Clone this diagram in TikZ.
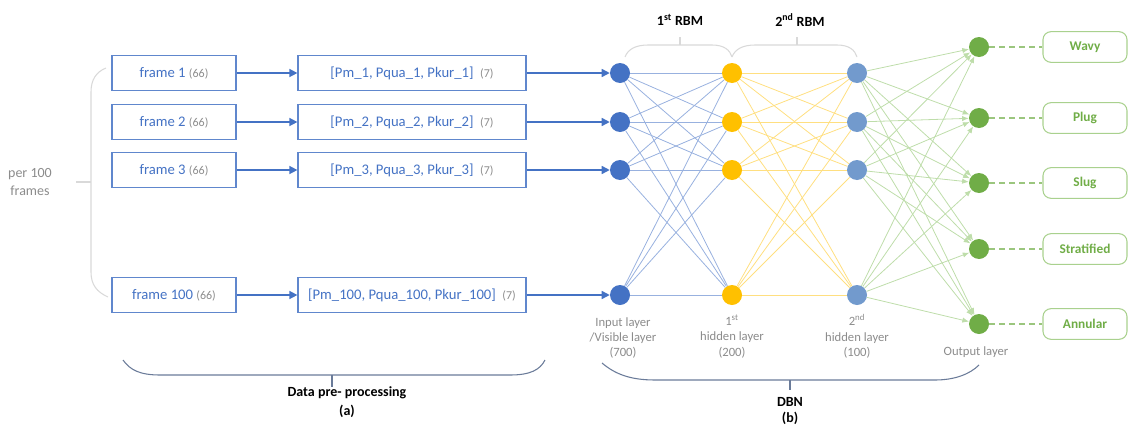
\documentclass[tikz,border=0pt]{standalone}
\usepackage{fontspec}
\setmainfont{Carlito}
\usetikzlibrary{arrows.meta,positioning}
\definecolor{nnblue}{HTML}{4472C4}
\definecolor{nnyellow}{HTML}{FFC000}
\definecolor{nnsteel}{HTML}{729ACD}
\definecolor{nngreen}{HTML}{70AD47}
\definecolor{lgreen}{HTML}{A9D18E}
\definecolor{txtgray}{HTML}{8C8C8C}
\definecolor{bracegray}{HTML}{D9D9D9}
\definecolor{bracedark}{HTML}{6A7B99}

\begin{document}
\begin{tikzpicture}[
  x=0.75pt, y=-0.75pt,
  every node/.style={align=center},
  fbox/.style={draw=nnblue!85, line width=0.9pt, minimum width=93pt,
               minimum height=26pt, inner sep=0pt, text=nnblue,
               font=\fontsize{11}{13}\selectfont},
  pbox/.style={fbox, minimum width=171pt},
  unit/.style={circle, minimum size=15pt, inner sep=0pt},
  cls/.style={draw=lgreen, line width=0.8pt, rounded corners=6pt,
              minimum width=63pt, minimum height=23pt, inner sep=0pt,
              text=nngreen, font=\fontsize{10}{12}\selectfont\bfseries},
  flow/.style={-{Triangle[length=6pt,width=6pt]}, draw=nnblue, line width=1.1pt},
  eblue/.style={draw=nnblue!55, line width=0.6pt},
  eyel/.style={draw=nnyellow!50, line width=0.6pt},
  egrn/.style={-{Latex[length=5pt,width=4pt]}, draw=lgreen!75, line width=0.6pt},
  lbl/.style={text=txtgray, font=\fontsize{9.5}{11.5}\selectfont},
  hd/.style={font=\fontsize{10.5}{12}\selectfont\bfseries},
  brl/.style={draw=bracegray, line width=0.8pt},
  brd/.style={draw=bracedark, line width=0.8pt},
]
\useasboundingbox (0,0) rectangle (1129,425);

% ---- data pre-processing ----
\foreach \i/\y/\n in {1/73/1, 2/122/2, 3/170/3, 4/295/100} {
  \node[fbox] (fr\i) at (174,\y) {frame \n\ {\color{txtgray}\fontsize{9}{10}\selectfont(66)}};
  \node[pbox] (pv\i) at (412,\y) {[Pm\_\n, Pqua\_\n, Pkur\_\n]\ \
                                  {\color{txtgray}\fontsize{9}{10}\selectfont(7)}};
  \draw[flow] (fr\i) -- (pv\i);
}

% ---- network units ----
\foreach \i/\y in {1/73, 2/122, 3/170, 4/295} {
  \node[unit, fill=nnblue]   (in\i) at (620,\y) {};
  \node[unit, fill=nnyellow] (hA\i) at (732,\y) {};
  \node[unit, fill=nnsteel]  (hB\i) at (857,\y) {};
  \draw[flow] (pv\i) -- (in\i);
}
\foreach \i/\y/\c in {1/47/Wavy, 2/118/Plug, 3/183/Slug, 4/249/Stratified, 5/324/Annular} {
  \node[unit, fill=nngreen] (out\i) at (979,\y) {};
  \node[cls] (cls\i) at (1085,\y) {\c};
  \draw[draw=nngreen!70, line width=0.8pt, dash pattern=on 4.5pt off 3pt] (out\i) -- (cls\i);
}

\foreach \a in {1,...,4}
  \foreach \b in {1,...,4} {
    \draw[eblue] (in\a) -- (hA\b);
    \draw[eyel]  (hA\a) -- (hB\b);
  }
\foreach \a in {1,...,4}
  \foreach \b in {1,...,5}
    \draw[egrn] (hB\a) -- (out\b);

% ---- layer labels ----
\node[lbl] (linp) at (623,338) {Input layer\\/Visible layer\\(700)};
\node[lbl, anchor=north] (lhA) at (732,310) {1\textsuperscript{st}\\hidden layer\\(200)};
\node[lbl, anchor=north] (lhB) at (857,310) {2\textsuperscript{nd}\\hidden layer\\(100)};
\node[lbl] (lout) at (976,352) {Output layer};

% ---- braces ----
\draw[brl] (106,68) .. controls (96,72) and (91,80) .. (91,92) -- (91,272)
           .. controls (91,285) and (97,292) .. (108,297);
\draw[brl] (76,182) -- (91,182);
\node[text=txtgray, font=\fontsize{10.5}{13}\selectfont] (per) at (30,182) {per 100\\frames};

\draw[brl] (625,57) .. controls (628,49) and (636,45) .. (648,45) -- (712,45)
           .. controls (724,45) and (730,50) .. (732,57);
\draw[brl] (680,45) -- (680,37);
\node[hd] (rbmA) at (680,20) {1\textsuperscript{st} RBM};
\draw[brl] (732,57) .. controls (735,49) and (743,45) .. (755,45) -- (837,45)
           .. controls (849,45) and (855,50) .. (857,57);
\draw[brl] (797,45) -- (797,37);
\node[hd] (rbmB) at (800,20) {2\textsuperscript{nd} RBM};

\draw[brd] (123,360) .. controls (130,370) and (140,375) .. (160,375) -- (510,375)
           .. controls (530,375) and (540,370) .. (545,360);
\draw[brd] (332,375) -- (332,387);
\node[hd, font=\fontsize{10.5}{14}\selectfont\bfseries] (prep) at (347,402) {Data pre- processing\\(a)};

\draw[brd] (602,363) .. controls (615,374) and (630,380) .. (655,380) -- (935,380)
           .. controls (955,380) and (970,374) .. (979,365);
\draw[brd] (790,380) -- (790,390);
\node[hd] (dbn) at (790,411) {DBN\\(b)};
\end{tikzpicture}
\end{document}
